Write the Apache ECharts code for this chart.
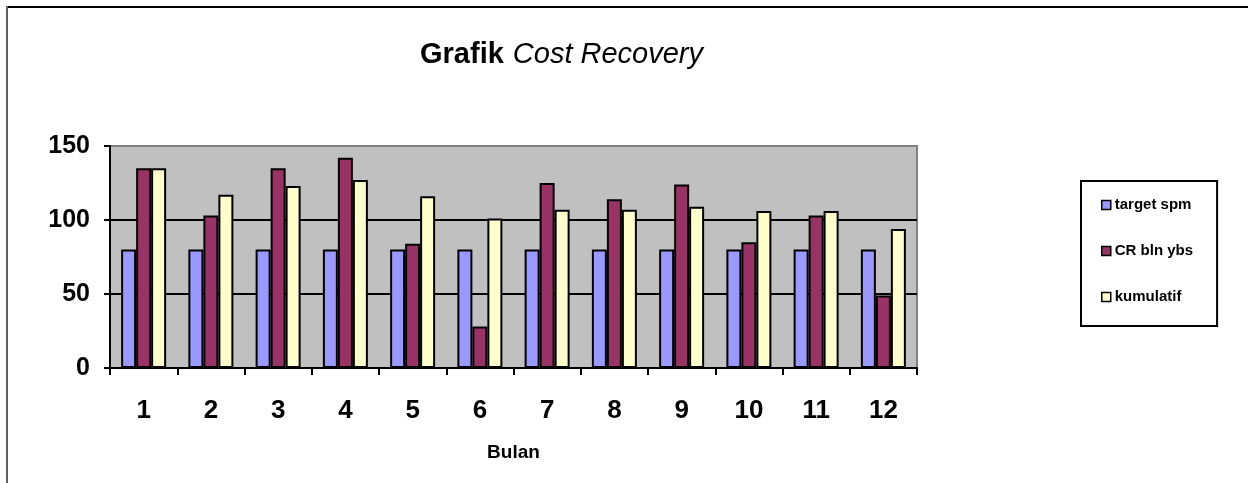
<!DOCTYPE html>
<html>
<head>
<meta charset="utf-8">
<script src="https://cdn.jsdelivr.net/npm/echarts@6/dist/echarts.min.js"></script>
<style>
html,body{margin:0;padding:0;background:#fff;}
#chart{width:1248px;height:483px;}
</style>
</head>
<body>
<div id="chart"></div>
<script>
var categories = ['1','2','3','4','5','6','7','8','9','10','11','12'];
var targetSpm = [80,80,80,80,80,80,80,80,80,80,80,80];
var crBlnYbs = [135,103,135,142,84,28,125,114,124,85,103,49];
var kumulatif = [135,117,123,127,116,101,107,107,109,106,106,94];
var seriesNames = ['target spm','CR bln ybs','kumulatif'];
var yTicks = [0,50,100,150];

var FONT = '"Liberation Sans", Arial, sans-serif';
var chart = echarts.init(document.getElementById('chart'), null, {renderer:'canvas'});

function barSeries(name, data, color){
  return {
    name: name, type: 'bar', data: data,
    barWidth: 15, barGap: '0%',
    itemStyle: {color: color, borderColor: '#000', borderWidth: 2},
    emphasis: {disabled: true}
  };
}

chart.setOption({
  animation: false,
  backgroundColor: '#fff',
  textStyle: {fontFamily: FONT},
  title: {
    text: '{b|Grafik}{i|Cost Recovery}',
    left: 420, top: 40, padding: 0,
    textStyle: {
      rich: {
        b: {fontFamily: FONT, fontSize: 29, fontWeight: 'bold', color: '#000'},
        i: {fontFamily: FONT, fontSize: 29, fontStyle: 'italic', fontWeight: 'normal', color: '#000', padding: [0,0,0,9]}
      }
    }
  },
  grid: {
    left: 110, right: 331, top: 146, bottom: 115,
    show: true, backgroundColor: '#C0C0C0', borderColor: '#808080', borderWidth: 2
  },
  legend: {
    orient: 'vertical', left: 1081, top: 181,
    padding: [16, 24, 21, 20], itemGap: 30,
    itemWidth: 9, itemHeight: 9, icon: 'rect',
    backgroundColor: '#fff', borderColor: '#000', borderWidth: 2,
    itemStyle: {borderColor: '#000', borderWidth: 1.5},
    textStyle: {fontFamily: FONT, fontSize: 15, fontWeight: 'bold', color: '#000', lineHeight: 16, padding: [0,0,0,-1]},
    data: seriesNames
  },
  xAxis: {
    type: 'category', data: categories,
    name: 'Bulan', nameLocation: 'middle', nameGap: 75,
    nameTextStyle: {fontFamily: FONT, fontSize: 19, fontWeight: 'bold', color: '#000'},
    axisLine: {lineStyle: {color: '#000', width: 2}},
    axisTick: {show: true, length: 7, lineStyle: {color: '#000', width: 2}},
    axisLabel: {fontFamily: FONT, fontSize: 26, fontWeight: 'bold', color: '#000', margin: 30},
    splitLine: {show: false}
  },
  yAxis: {
    type: 'value', min: yTicks[0], max: yTicks[yTicks.length-1], interval: 50,
    axisLine: {show: true, lineStyle: {color: '#000', width: 2}},
    axisTick: {show: true, length: 6, lineStyle: {color: '#000', width: 2}},
    axisLabel: {fontFamily: FONT, fontSize: 25, fontWeight: 'bold', color: '#000', margin: 20},
    splitLine: {show: true, lineStyle: {color: ['#000','#000','#000','#808080'], width: 2}}
  },
  graphic: [
    {type: 'line', shape: {x1: 6, y1: 7, x2: 1248, y2: 7}, style: {stroke: '#000', lineWidth: 2}, z: 100},
    {type: 'line', shape: {x1: 7, y1: 6, x2: 7, y2: 483}, style: {stroke: '#606060', lineWidth: 2}, z: 100}
  ],
  series: [
    barSeries(seriesNames[0], targetSpm, '#9999FF'),
    barSeries(seriesNames[1], crBlnYbs, '#993366'),
    barSeries(seriesNames[2], kumulatif, '#FFFFCC')
  ]
});
</script>
</body>
</html>
